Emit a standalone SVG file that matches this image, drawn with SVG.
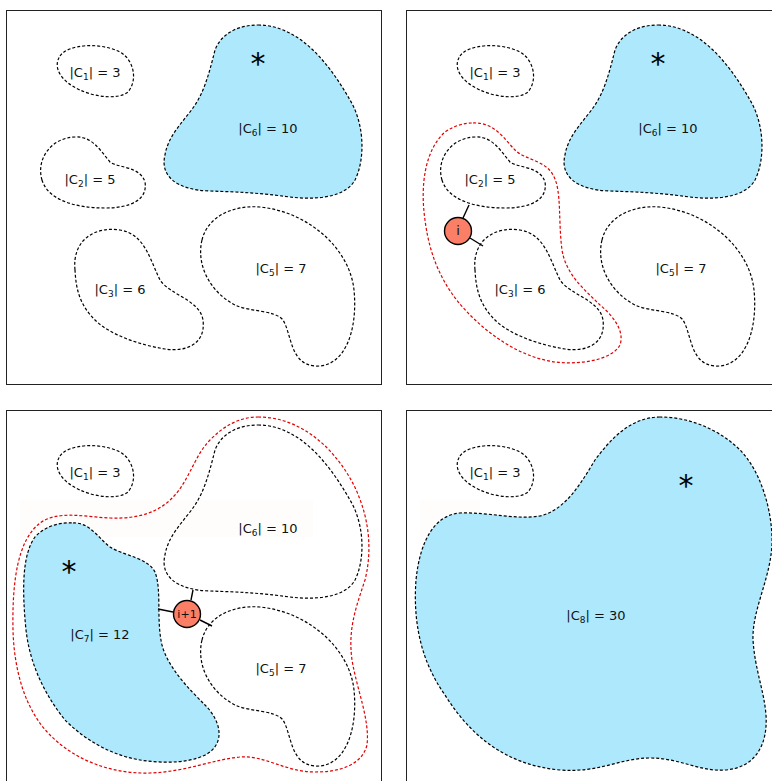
<svg xmlns="http://www.w3.org/2000/svg" xmlns:xlink="http://www.w3.org/1999/xlink" width="772" height="781" viewBox="0 0 772 781">
<style>
.frame{fill:#fff;stroke:#222;stroke-width:1}
.dash{fill:none;stroke:#000;stroke-width:1.2;stroke-dasharray:3 2}
.filled{fill:#aee8fc;stroke:#000;stroke-width:1.2;stroke-dasharray:3 2}
.red{fill:none;stroke:#e00000;stroke-width:1.2;stroke-dasharray:3 2}
.lbl{font-family:"DejaVu Sans",sans-serif;font-size:13px;fill:#111;text-anchor:middle}
.star{font-family:"DejaVu Sans",sans-serif;font-size:30px;fill:#000;text-anchor:middle}
.node{fill:#fa7f66;stroke:#000;stroke-width:1.4}
.edge{stroke:#000;stroke-width:1.4;fill:none}
</style>
<defs>
<path id="sC1" d="M 60,56 C 68,44 100,42 120,52 C 134,60 138,80 128,92 C 118,100 95,97 80,90 C 62,82 52,68 60,56 Z"/>
<path id="sC2" d="M 42,180 C 36,160 50,138 75,137 C 92,136 100,150 110,162 C 118,168 140,166 145,182 C 148,200 130,208 105,208 C 75,208 48,200 42,180 Z"/>
<path id="sC3" d="M 75,270 C 72,240 95,226 120,230 C 145,234 150,260 160,280 C 170,295 200,300 203,320 C 206,345 185,352 165,349 C 140,345 110,335 95,320 C 80,305 76,290 75,270 Z"/>
<path id="sC5" d="M 202,240 C 208,215 235,205 260,207 C 310,212 350,250 354,290 C 358,330 345,368 315,366 C 290,364 292,335 283,320 C 275,310 250,312 235,305 C 210,292 196,265 202,240 Z"/>
<path id="sC6" d="M 258,25 C 300,25 330,65 350,100 C 365,125 365,160 355,180 C 345,198 315,200 290,197 C 260,193 240,192 210,191 C 175,190 160,175 165,155 C 168,135 185,120 195,105 C 205,90 210,70 215,50 C 222,32 240,25 258,25 Z"/>
</defs>

<g id="frames">
<rect class="frame" x="6.5" y="10.5" width="375" height="374"/>
<rect class="frame" x="406.5" y="10.5" width="380" height="374"/>
<rect class="frame" x="6.5" y="410.5" width="375" height="380"/>
<rect class="frame" x="406.5" y="410.5" width="380" height="380"/>
<rect x="20" y="500" width="293" height="37" fill="#fefdfc"/>
<rect x="420" y="500" width="60" height="37" fill="#fefdfc"/>
</g>

<!-- Panel 1 -->
<g id="p1-C1"><use href="#sC1" class="dash"/><text class="lbl" x="95" y="77">|C<tspan font-size="9" dy="3">1</tspan><tspan dy="-3">| = 3</tspan></text></g>
<g id="p1-C2"><use href="#sC2" class="dash"/><text class="lbl" x="90" y="184">|C<tspan font-size="9" dy="3">2</tspan><tspan dy="-3">| = 5</tspan></text></g>
<g id="p1-C3"><use href="#sC3" class="dash"/><text class="lbl" x="120" y="294">|C<tspan font-size="9" dy="3">3</tspan><tspan dy="-3">| = 6</tspan></text></g>
<g id="p1-C5"><use href="#sC5" class="dash"/><text class="lbl" x="281" y="273">|C<tspan font-size="9" dy="3">5</tspan><tspan dy="-3">| = 7</tspan></text></g>
<g id="p1-C6"><use href="#sC6" class="filled"/><text class="lbl" x="268" y="133">|C<tspan font-size="9" dy="3">6</tspan><tspan dy="-3">| = 10</tspan></text><text class="star" x="258" y="74">*</text></g>

<!-- Panel 2 -->
<g id="p2-C1" transform="translate(400,0)"><use href="#sC1" class="dash"/><text class="lbl" x="95" y="77">|C<tspan font-size="9" dy="3">1</tspan><tspan dy="-3">| = 3</tspan></text></g>
<g id="p2-C2" transform="translate(400,0)"><use href="#sC2" class="dash"/><text class="lbl" x="90" y="184">|C<tspan font-size="9" dy="3">2</tspan><tspan dy="-3">| = 5</tspan></text></g>
<g id="p2-C3" transform="translate(400,0)"><use href="#sC3" class="dash"/><text class="lbl" x="120" y="294">|C<tspan font-size="9" dy="3">3</tspan><tspan dy="-3">| = 6</tspan></text></g>
<g id="p2-C5" transform="translate(400,0)"><use href="#sC5" class="dash"/><text class="lbl" x="281" y="273">|C<tspan font-size="9" dy="3">5</tspan><tspan dy="-3">| = 7</tspan></text></g>
<g id="p2-C6" transform="translate(400,0)"><use href="#sC6" class="filled"/><text class="lbl" x="268" y="133">|C<tspan font-size="9" dy="3">6</tspan><tspan dy="-3">| = 10</tspan></text><text class="star" x="258" y="74">*</text></g>
<g id="p2-merge"><path class="red" d="M 473,123 C 495,122 505,140 515,150 C 525,160 545,160 553,175 C 562,190 558,220 562,250 C 566,275 585,290 600,305 C 612,315 625,330 620,345 C 612,360 580,365 555,362 C 525,358 495,340 470,315 C 445,290 430,260 425,220 C 420,185 425,150 445,132 C 455,125 465,123 473,123 Z"/></g>

<!-- Panel 3 -->
<g id="p3-C1" transform="translate(0,400)"><use href="#sC1" class="dash"/><text class="lbl" x="95" y="77">|C<tspan font-size="9" dy="3">1</tspan><tspan dy="-3">| = 3</tspan></text></g>
<g id="p3-C6" transform="translate(0,400)"><use href="#sC6" class="dash"/><text class="lbl" x="268" y="133">|C<tspan font-size="9" dy="3">6</tspan><tspan dy="-3">| = 10</tspan></text></g>
<g id="p3-C5" transform="translate(0,400)"><use href="#sC5" class="dash"/><text class="lbl" x="281" y="273">|C<tspan font-size="9" dy="3">5</tspan><tspan dy="-3">| = 7</tspan></text></g>
<g id="p3-C7"><path class="filled" d="M 73,523 C 90,522 100,540 110,547 C 125,556 148,558 155,572 C 162,590 156,620 162,645 C 168,668 190,690 205,705 C 220,720 225,740 210,752 C 195,763 165,764 140,760 C 105,754 80,735 65,720 C 45,695 30,665 26,630 C 22,590 22,555 35,537 C 45,526 60,522 73,523 Z"/><text class="lbl" x="100" y="639">|C<tspan font-size="9" dy="3">7</tspan><tspan dy="-3">| = 12</tspan></text><text class="star" x="69" y="582">*</text></g>
<g id="p3-merge"><path class="red" d="M 258,417 C 295,417 325,440 345,470 C 365,500 375,540 365,580 C 355,610 348,630 352,660 C 357,690 370,720 367,745 C 362,765 340,772 315,772 C 285,772 265,755 240,757 C 215,759 185,772 150,773 C 110,774 75,760 50,735 C 25,710 14,670 13,630 C 12,580 18,540 40,523 C 58,510 85,517 110,518 C 140,519 160,512 175,495 C 190,478 195,455 210,440 C 225,425 240,417 258,417 Z"/></g>

<!-- Panel 4 -->
<g id="p4-C1" transform="translate(400,400)"><use href="#sC1" class="dash"/><text class="lbl" x="95" y="77">|C<tspan font-size="9" dy="3">1</tspan><tspan dy="-3">| = 3</tspan></text></g>
<g id="p4-C8"><path class="filled" d="M 660,417 C 630,417 610,440 595,460 C 580,485 565,510 540,516 C 515,520 490,512 460,513 C 435,515 420,540 416,580 C 413,620 420,660 445,695 C 470,735 505,765 560,770 C 600,773 620,758 650,758 C 680,758 700,772 725,770 C 755,768 768,745 766,715 C 764,690 755,670 753,640 C 752,610 770,580 772,545 C 773,510 760,470 740,450 C 720,430 690,417 660,417 Z"/><text class="lbl" x="596" y="620">|C<tspan font-size="9" dy="3">8</tspan><tspan dy="-3">| = 30</tspan></text><text class="star" x="686" y="496">*</text></g>

<g id="connectors">
<line class="edge" x1="463" y1="218" x2="469" y2="205"/>
<line class="edge" x1="470" y1="238" x2="483" y2="246"/>
<line class="edge" x1="158" y1="609" x2="173" y2="612"/>
<line class="edge" x1="191" y1="600" x2="193" y2="590"/>
<line class="edge" x1="200" y1="620" x2="212" y2="626"/>
</g>

<g id="node-i"><circle class="node" cx="458" cy="231" r="13.5"/><text class="lbl" x="458" y="235" font-size="12">i</text></g>
<g id="node-i1"><circle class="node" cx="187" cy="614" r="13.5"/><text class="lbl" x="187" y="618" style="font-size:11px">i+1</text></g>
</svg>
